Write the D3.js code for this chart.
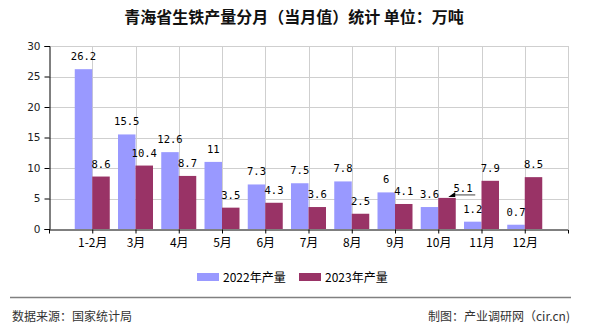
<!DOCTYPE html>
<html>
<head>
<meta charset="utf-8">
<script src="https://cdn.jsdelivr.net/npm/d3@7"></script>
<style>
  body { margin: 0; background: #fff; }
  svg { display: block; font-family: "Noto Sans CJK SC", "Noto Sans", sans-serif; }
</style>
</head>
<body>
<svg id="chart" width="590" height="330"></svg>
<script>
// Monthly pig-iron output, Qinghai province (10k tonnes)
const months = ["1-2月", "3月", "4月", "5月", "6月", "7月", "8月", "9月", "10月", "11月", "12月"];
const output2022 = [26.2, 15.5, 12.6, 11, 7.3, 7.5, 7.8, 6, 3.6, 1.2, 0.7];
const output2023 = [8.6, 10.4, 8.7, 3.5, 4.3, 3.6, 2.5, 4.1, 5.1, 7.9, 8.5];
const seriesNames = ["2022年产量", "2023年产量"];
const yTicks = [0, 5, 10, 15, 20, 25, 30];

const colors = ["#9999FF", "#993366"];
const svg = d3.select("#chart");

const plot = { left: 49, right: 568, top: 46, bottom: 229 };

const x = d3.scalePoint().domain(months).range([plot.left, plot.right]).padding(1);
const xSeries = d3.scaleBand().domain(seriesNames).range([-17.5, 17.5]).padding(0);
const y = d3.scaleLinear().domain([0, 30]).range([plot.bottom, plot.top]);

// Title
svg.append("text")
  .attr("x", 294).attr("y", 23)
  .attr("text-anchor", "middle")
  .attr("font-size", 16).attr("font-weight", "bold").attr("fill", "#111")
  .text("青海省生铁产量分月（当月值）统计 单位：万吨");

// Grid
const grid = svg.append("g").attr("stroke", "#cfcfcf").attr("stroke-width", 1);
yTicks.filter(t => t > 0).forEach(t => {
  grid.append("line")
    .attr("x1", plot.left).attr("x2", plot.right)
    .attr("y1", Math.round(y(t)) + 0.5).attr("y2", Math.round(y(t)) + 0.5);
});
months.forEach(m => {
  grid.append("line")
    .attr("x1", Math.round(x(m)) + 0.5).attr("x2", Math.round(x(m)) + 0.5)
    .attr("y1", plot.top).attr("y2", plot.bottom);
});
grid.append("line")
  .attr("x1", plot.right + 0.5).attr("x2", plot.right + 0.5)
  .attr("y1", plot.top).attr("y2", plot.bottom);

// Bars
const data = months.map((m, i) => ({ month: m, values: [output2022[i], output2023[i]] }));
const groups = svg.append("g").selectAll("g").data(data).join("g")
  .attr("transform", d => `translate(${x(d.month)},0)`);

groups.selectAll("rect")
  .data(d => d.values.map((v, k) => ({ v, k })))
  .join("rect")
  .attr("x", d => xSeries(seriesNames[d.k]))
  .attr("width", xSeries.bandwidth())
  .attr("y", d => y(d.v))
  .attr("height", d => y(0) - y(d.v))
  .attr("fill", d => colors[d.k]);

// Value labels
const labelFont = '"DejaVu Sans Mono", "Liberation Mono", monospace';
groups.selectAll("text.val")
  .data(d => d.values.map((v, k) => ({ v, k, month: d.month })))
  .join("text")
  .attr("class", "val")
  .attr("x", d => {
    const cx = xSeries(seriesNames[d.k]) + xSeries.bandwidth() / 2;
    return (d.month === "10月" && d.k === 1) ? cx + 16 : cx;
  })
  .attr("y", d => (d.month === "10月" && d.k === 1) ? y(d.v) - 6 : y(d.v) - 9)
  .attr("text-anchor", "middle")
  .attr("font-family", labelFont)
  .attr("font-size", 10.5)
  .attr("fill", "#000")
  .text(d => d.v);

// Leader for the shifted 10月 label
const i10 = months.indexOf("10月");
const tipX = x("10月") + 10, tipY = y(output2023[i10]) - 1;
svg.append("line")
  .attr("x1", tipX + 4).attr("y1", tipY - 2)
  .attr("x2", tipX + 27).attr("y2", tipY - 2)
  .attr("stroke", "#808080").attr("stroke-width", 1.5);
svg.append("path")
  .attr("d", `M${tipX},${tipY} L${tipX + 7},${tipY - 5} L${tipX + 7},${tipY} Z`)
  .attr("fill", "#000");

// Axes
const yAxis = d3.axisLeft(y).tickValues(yTicks).tickSize(5).tickPadding(4);
svg.append("g")
  .attr("transform", `translate(${plot.left + 0.5},0)`)
  .call(yAxis)
  .call(g => g.select(".domain").attr("stroke", "#000"))
  .call(g => g.selectAll("text").attr("font-size", 11).attr("fill", "#222")
    .attr("font-family", '"DejaVu Sans", sans-serif').attr("font-size", 10.5));

const xAxis = d3.axisBottom(x).tickSize(4).tickPadding(5).tickSizeOuter(4);
svg.append("g")
  .attr("transform", `translate(0,${plot.bottom + 0.5})`)
  .call(xAxis)
  .call(g => g.select(".domain").attr("stroke", "#000"))
  .call(g => g.selectAll("text").attr("font-size", 12).attr("fill", "#000")
    .attr("font-family", '"Noto Sans CJK SC", sans-serif'));

// Legend
const legend = svg.append("g");
const legendX = [197, 299];
seriesNames.forEach((name, k) => {
  legend.append("rect")
    .attr("x", legendX[k]).attr("y", 273)
    .attr("width", 22).attr("height", 8)
    .attr("fill", colors[k]);
  legend.append("text")
    .attr("x", legendX[k] + 26).attr("y", 282)
    .attr("font-size", 12).attr("fill", "#000")
    .text(name);
});

// Footer
svg.append("line")
  .attr("x1", 10).attr("x2", 571).attr("y1", 297.5).attr("y2", 297.5)
  .attr("stroke", "#808080").attr("stroke-width", 1.5);
svg.append("text")
  .attr("x", 12).attr("y", 321)
  .attr("font-size", 12).attr("fill", "#333")
  .text("数据来源：国家统计局");
svg.append("text")
  .attr("x", 570).attr("y", 321)
  .attr("text-anchor", "end")
  .attr("font-size", 12).attr("fill", "#333")
  .text("制图：产业调研网（cir.cn)");
</script>
</body>
</html>
